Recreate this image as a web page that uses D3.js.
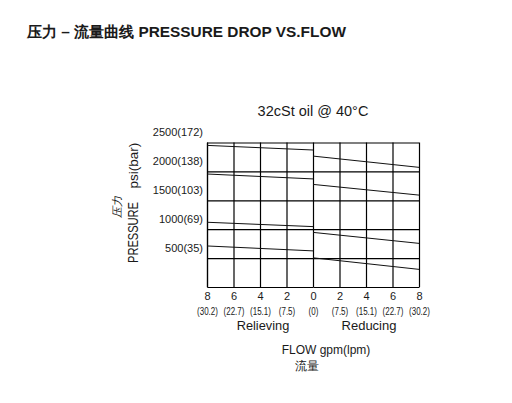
<!DOCTYPE html>
<html>
<head>
<meta charset="utf-8">
<script src="https://cdn.jsdelivr.net/npm/d3@7"></script>
<style>
  body { margin: 0; background: #fff; }
  svg { display: block; }
  text { font-family: Arial, "Liberation Sans", sans-serif; fill: #1a1a1a; }
</style>
</head>
<body>
<div id="chart"></div>
<script>
// Pressure drop vs. flow - relieving (left) and reducing (right) halves

const flowTicks = [0, 2, 4, 6, 8];
const lpmLabels = ["(0)", "(7.5)", "(15.1)", "(22.7)", "(30.2)"];
const pressureTicks = [500, 1000, 1500, 2000, 2500];
const pressureLabels = ["500(35)", "1000(69)", "1500(103)", "2000(138)", "2500(172)"];

// each curve: psi at flow 0 and at flow 8 gpm
const curveFlows = [0, 8];
const relievingCurves = [
  [2370, 2450],
  [1870, 1955],
  [1045, 1120],
  [625, 710]
];
const reducingCurves = [
  [2265, 2070],
  [1775, 1590],
  [945, 755],
  [505, 305]
];

function renderChart(containerId) {
  const width = 512, height = 403;
  const margin = { top: 142.5, left: 207 };
  const innerWidth = 212;
  const innerHeight = 144.5;

  const svg = d3.select(`#${containerId}`)
    .append("svg")
    .attr("width", width)
    .attr("height", height);

  // Title
  svg.append("text")
    .attr("x", 27)
    .attr("y", 37)
    .style("font-size", "15.4px")
    .style("font-weight", "bold")
    .text("压力 – 流量曲线 PRESSURE DROP VS.FLOW");

  svg.append("text")
    .attr("x", 313)
    .attr("y", 115.5)
    .attr("text-anchor", "middle")
    .style("font-size", "14.5px")
    .text("32cSt oil @ 40°C");

  const g = svg.append("g")
    .attr("transform", `translate(${margin.left},${margin.top})`);

  // Scales
  const xRel = d3.scaleLinear().domain([8, 0]).range([0, innerWidth / 2]);
  const xRed = d3.scaleLinear().domain([0, 8]).range([innerWidth / 2, innerWidth]);
  const y = d3.scaleLinear().domain([0, 2500]).range([innerHeight, 0]);

  // Y-axis with grid
  const yAxis = g.append("g")
    .call(d3.axisLeft(y)
      .tickValues(pressureTicks)
      .tickFormat((d, i) => pressureLabels[i])
      .tickSize(-innerWidth)
      .tickSizeOuter(0)
      .tickPadding(4))
    .style("color", "#000");
  yAxis.selectAll("line, path").attr("stroke-width", 1.2);
  yAxis.selectAll("text")
    .attr("y", -10.5)
    .style("font-size", "11px")
    .style("fill", "#1a1a1a");

  // X-axes with grid, one per half
  function flowAxis(scale, ticks) {
    const ax = g.append("g")
      .attr("transform", `translate(0,${innerHeight})`)
      .call(d3.axisBottom(scale)
        .tickValues(ticks)
        .tickFormat(d3.format("d"))
        .tickSize(-innerHeight)
        .tickSizeOuter(0)
        .tickPadding(5))
      .style("color", "#000");
    ax.selectAll("line, path").attr("stroke-width", 1.2);
    ax.selectAll("text")
      .style("font-size", "11px")
      .style("fill", "#1a1a1a");
    // lpm labels, narrow like the original print
    ax.selectAll(".tick")
      .append("text")
      .attr("y", 28.5)
      .attr("transform", "scale(0.8,1)")
      .attr("text-anchor", "middle")
      .style("font-size", "10px")
      .style("fill", "#1a1a1a")
      .text(d => lpmLabels[flowTicks.indexOf(d)]);
  }
  flowAxis(xRel, [8, 6, 4, 2, 0]);
  flowAxis(xRed, [2, 4, 6, 8]);

  // Curves
  function drawCurves(curves, scale) {
    const line = d3.line()
      .x(d => scale(d.flow))
      .y(d => y(d.psi));
    g.selectAll(null)
      .data(curves.map(c => curveFlows.map((f, i) => ({ flow: f, psi: c[i] }))))
      .join("path")
      .attr("fill", "none")
      .attr("stroke", "#111")
      .attr("stroke-width", 1)
      .attr("d", line);
  }
  drawCurves(relievingCurves, xRel);
  drawCurves(reducingCurves, xRed);

  // Half labels
  g.append("text")
    .attr("x", xRel(4) + 3)
    .attr("y", 187)
    .attr("text-anchor", "middle")
    .style("font-size", "12.8px")
    .text("Relieving");

  g.append("text")
    .attr("x", xRed(4) + 3)
    .attr("y", 187)
    .attr("text-anchor", "middle")
    .style("font-size", "13px")
    .text("Reducing");

  // X-axis title
  svg.append("text")
    .attr("x", 326)
    .attr("y", 353.5)
    .attr("text-anchor", "middle")
    .style("font-size", "12px")
    .text("FLOW gpm(lpm)");

  svg.append("text")
    .attr("x", 306.5)
    .attr("y", 369.5)
    .attr("text-anchor", "middle")
    .style("font-size", "12px")
    .text("流量");

  // Y-axis title (rotated)
  svg.append("text")
    .attr("transform", "translate(138,263) rotate(-90)")
    .attr("textLength", 61)
    .attr("lengthAdjust", "spacingAndGlyphs")
    .style("font-size", "14px")
    .text("PRESSURE");

  svg.append("text")
    .attr("transform", "translate(138,188.5) rotate(-90)")
    .style("font-size", "13.5px")
    .text("psi(bar)");

  svg.append("text")
    .attr("transform", "translate(121,207) rotate(-90)")
    .attr("text-anchor", "middle")
    .style("font-size", "11px")
    .style("font-style", "italic")
    .text("压力");
}

document.addEventListener("DOMContentLoaded", () => {
  renderChart("chart");
});
</script>
</body>
</html>
